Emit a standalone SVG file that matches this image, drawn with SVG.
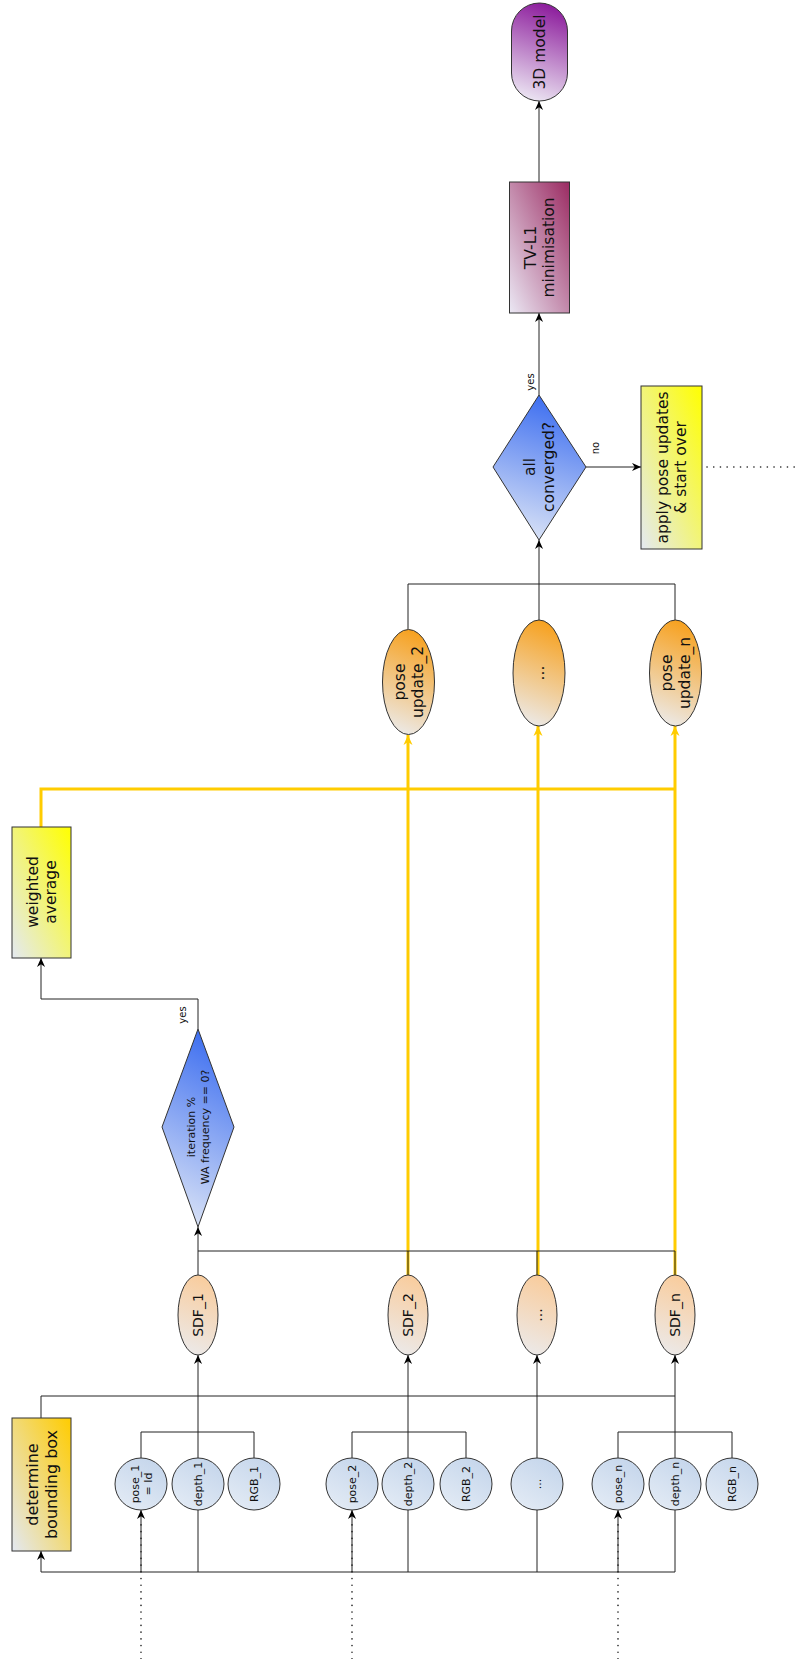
<svg xmlns="http://www.w3.org/2000/svg" width="795" height="1659" viewBox="0 0 795 1659">
<style>
text{font-family:"DejaVu Sans","Liberation Sans",sans-serif;fill:#111;text-anchor:middle}
.c{stroke:#222;stroke-width:1;fill:none}
.y{stroke:#ffcc00;stroke-width:3;fill:none}
.s{stroke:#333;stroke-width:1}
.dot{stroke:#222;stroke-width:1.6;fill:none;stroke-dasharray:0.1 6.6;stroke-linecap:round}
</style>
<defs>
<marker id="ab" viewBox="0 0 10 10" refX="10" refY="5" markerWidth="9" markerHeight="9" markerUnits="userSpaceOnUse" orient="auto"><path d="M0,0.5 L10,5 L0,9.5 L3,5 z" fill="#000"/></marker>
<marker id="ay" viewBox="0 0 10 10" refX="10" refY="5" markerWidth="10" markerHeight="10" markerUnits="userSpaceOnUse" orient="auto"><path d="M0,0.5 L10,5 L0,9.5 L3,5 z" fill="#ffcc00"/></marker>
<linearGradient id="gCirc" x1="0.8" y1="0" x2="0.2" y2="1"><stop offset="0" stop-color="#c4d5eb"/><stop offset="1" stop-color="#e3ebf5"/></linearGradient>
<linearGradient id="gSdf" x1="0.6" y1="0" x2="0.4" y2="1"><stop offset="0" stop-color="#f9cc9c"/><stop offset="1" stop-color="#ece9e8"/></linearGradient>
<linearGradient id="gPu" x1="0.6" y1="0" x2="0.4" y2="1"><stop offset="0" stop-color="#f7a01c"/><stop offset="1" stop-color="#ece9e6"/></linearGradient>
<linearGradient id="gDia" x1="0.6" y1="0" x2="0.4" y2="1"><stop offset="0" stop-color="#3a6cf0"/><stop offset="1" stop-color="#dae3f6"/></linearGradient>
<linearGradient id="gBB" x1="1" y1="0" x2="0" y2="1"><stop offset="0" stop-color="#ffcc00"/><stop offset="1" stop-color="#e3e8f2"/></linearGradient>
<linearGradient id="gYel" x1="1" y1="0" x2="0" y2="1"><stop offset="0" stop-color="#ffff00"/><stop offset="1" stop-color="#e4e9f2"/></linearGradient>
<linearGradient id="gTV" x1="1" y1="0" x2="0" y2="1"><stop offset="0" stop-color="#9b2b62"/><stop offset="1" stop-color="#ebe8f4"/></linearGradient>
<linearGradient id="g3D" x1="0.6" y1="0" x2="0.4" y2="1"><stop offset="0" stop-color="#8c1c9c"/><stop offset="1" stop-color="#ebe4f2"/></linearGradient>
</defs>
<rect width="795" height="1659" fill="#fff"/>

<g id="connectors">
<!-- yellow -->
<path class="y" d="M41,827 V789 H675"/>
<path class="y" d="M408,1275 V735" marker-end="url(#ay)"/>
<path class="y" d="M538,1275 V726" marker-end="url(#ay)"/>
<path class="y" d="M675,1275 V726" marker-end="url(#ay)"/>
<!-- input bus -->
<path class="c" d="M618,1572 H41 V1551" stroke-width="2" marker-end="url(#ab)"/>
<path class="c" d="M675,1510 V1572 H618" stroke="#555"/>
<path class="c" d="M198,1510 V1572"/>
<path class="c" d="M408,1510 V1572"/>
<path class="c" d="M537,1510 V1572"/>
<!-- dotted pose inputs -->
<path class="dot" d="M141,1659 V1520"/>
<path class="dot" d="M352,1659 V1520"/>
<path class="dot" d="M618,1659 V1520"/>
<path class="c" d="M141,1572 V1510" stroke="#555" marker-end="url(#ab)"/>
<path class="c" d="M352,1572 V1510" stroke="#555" marker-end="url(#ab)"/>
<path class="c" d="M618,1572 V1510" stroke="#555" marker-end="url(#ab)"/>
<!-- pose/RGB groupings -->
<path class="c" d="M141,1458 V1432 H254 V1458"/>
<path class="c" d="M352,1458 V1432 H466 V1458"/>
<path class="c" d="M618,1458 V1432 H732 V1458"/>
<!-- to SDFs -->
<path class="c" d="M198,1458 V1355" marker-end="url(#ab)"/>
<path class="c" d="M408,1458 V1355" marker-end="url(#ab)"/>
<path class="c" d="M537,1458 V1355" marker-end="url(#ab)"/>
<path class="c" d="M675,1458 V1355" marker-end="url(#ab)"/>
<path class="c" d="M41,1418 V1396 H675" stroke="#555"/>
<!-- SDFs to diamond -->
<path class="c" d="M198,1275 V1227" marker-end="url(#ab)"/>
<path class="c" d="M198,1251 H675" stroke="#555"/>
<path class="c" d="M408,1275 V1251"/>
<path class="c" d="M537,1275 V1251"/>
<path class="c" d="M675,1275 V1251"/>
<!-- diamond to weighted average -->
<path class="c" d="M198,1029 V999 H41 V958" marker-end="url(#ab)"/>
<!-- pose updates to all converged -->
<path class="c" d="M408,629 V584 H675 V620"/>
<path class="c" d="M539,620 V540" marker-end="url(#ab)"/>
<path class="c" d="M539,395 V313" marker-end="url(#ab)"/>
<path class="c" d="M539,182 V101" marker-end="url(#ab)"/>
<path class="c" d="M586,467 H641" marker-end="url(#ab)"/>
<path class="dot" d="M707,467 H795"/>
<text font-size="10" transform="translate(182,1015) rotate(-90)" dy="0.35em">yes</text>
<text font-size="10" transform="translate(530,382) rotate(-90)" dy="0.35em">yes</text>
<text font-size="10" transform="translate(595,448) rotate(-90)" dy="0.35em">no</text>
</g>

<g id="determine-bounding-box">
<rect x="12" y="1418" width="59" height="133" fill="url(#gBB)" class="s"/>
<text font-size="16" transform="translate(41.5,1484.5) rotate(-90)"><tspan x="0" y="-4">determine</tspan><tspan x="0" y="15">bounding box</tspan></text>
</g>

<g id="inputs" font-size="11">
<g id="pose_1"><circle cx="141" cy="1484" r="26" fill="url(#gCirc)" class="s"/><text font-size="11" transform="translate(141,1484) rotate(-90)"><tspan x="0" y="-2">pose_1</tspan><tspan x="0" y="10.5">= Id</tspan></text></g>
<g id="depth_1"><circle cx="198" cy="1484" r="26" fill="url(#gCirc)" class="s"/><text font-size="11" transform="translate(198,1484) rotate(-90)" dy="0.35em">depth_1</text></g>
<g id="RGB_1"><circle cx="254" cy="1484" r="26" fill="url(#gCirc)" class="s"/><text font-size="11" transform="translate(254,1484) rotate(-90)" dy="0.35em">RGB_1</text></g>
<g id="pose_2"><circle cx="352" cy="1484" r="26" fill="url(#gCirc)" class="s"/><text font-size="11" transform="translate(352,1484) rotate(-90)" dy="0.35em">pose_2</text></g>
<g id="depth_2"><circle cx="408" cy="1484" r="26" fill="url(#gCirc)" class="s"/><text font-size="11" transform="translate(408,1484) rotate(-90)" dy="0.35em">depth_2</text></g>
<g id="RGB_2"><circle cx="466" cy="1484" r="26" fill="url(#gCirc)" class="s"/><text font-size="11" transform="translate(466,1484) rotate(-90)" dy="0.35em">RGB_2</text></g>
<g id="input-dots"><circle cx="537" cy="1484" r="26" fill="url(#gCirc)" class="s"/><text font-size="11" transform="translate(537,1484) rotate(-90)" dy="0.35em">...</text></g>
<g id="pose_n"><circle cx="618" cy="1484" r="26" fill="url(#gCirc)" class="s"/><text font-size="11" transform="translate(618,1484) rotate(-90)" dy="0.35em">pose_n</text></g>
<g id="depth_n"><circle cx="675" cy="1484" r="26" fill="url(#gCirc)" class="s"/><text font-size="11" transform="translate(675,1484) rotate(-90)" dy="0.35em">depth_n</text></g>
<g id="RGB_n"><circle cx="732" cy="1484" r="26" fill="url(#gCirc)" class="s"/><text font-size="11" transform="translate(732,1484) rotate(-90)" dy="0.35em">RGB_n</text></g>
</g>

<g id="sdfs">
<g id="SDF_1"><ellipse cx="198" cy="1315" rx="20" ry="40" fill="url(#gSdf)" class="s"/><text font-size="14" transform="translate(198,1315) rotate(-90)" dy="0.35em">SDF_1</text></g>
<g id="SDF_2"><ellipse cx="408" cy="1315" rx="20" ry="40" fill="url(#gSdf)" class="s"/><text font-size="14" transform="translate(408,1315) rotate(-90)" dy="0.35em">SDF_2</text></g>
<g id="SDF-dots"><ellipse cx="537" cy="1315" rx="20" ry="40" fill="url(#gSdf)" class="s"/><text font-size="14" transform="translate(537,1315) rotate(-90)" dy="0.35em">...</text></g>
<g id="SDF_n"><ellipse cx="675" cy="1315" rx="20" ry="40" fill="url(#gSdf)" class="s"/><text font-size="14" transform="translate(675,1315) rotate(-90)" dy="0.35em">SDF_n</text></g>
</g>

<g id="wa-decision">
<polygon points="198,1029 234,1127 198,1227 162,1127" fill="url(#gDia)" class="s"/>
<text font-size="11" transform="translate(198,1127) rotate(-90)"><tspan x="0" y="-3">iteration %</tspan><tspan x="0" y="11">WA frequency == 0?</tspan></text>
</g>

<g id="weighted-average">
<rect x="12" y="827" width="59" height="131" fill="url(#gYel)" class="s"/>
<text font-size="15.5" transform="translate(41.5,892) rotate(-90)"><tspan x="0" y="-4">weighted</tspan><tspan x="0" y="14.5">average</tspan></text>
</g>

<g id="pose-updates">
<g id="pose-update_2"><ellipse cx="408.5" cy="682" rx="26" ry="52.5" fill="url(#gPu)" class="s"/><text font-size="15.5" transform="translate(408.5,682) rotate(-90)"><tspan x="0" y="-4">pose</tspan><tspan x="0" y="14.5">update_2</tspan></text></g>
<g id="pose-update-dots"><ellipse cx="539" cy="673" rx="26" ry="53" fill="url(#gPu)" class="s"/><text font-size="15.5" transform="translate(539,673) rotate(-90)" dy="0.35em">...</text></g>
<g id="pose-update_n"><ellipse cx="675.5" cy="673" rx="26" ry="53" fill="url(#gPu)" class="s"/><text font-size="15.5" transform="translate(675.5,673) rotate(-90)"><tspan x="0" y="-4">pose</tspan><tspan x="0" y="14.5">update_n</tspan></text></g>
</g>

<g id="all-converged">
<polygon points="539,395 586,467 539,540 493,467" fill="url(#gDia)" class="s"/>
<text font-size="15.5" transform="translate(539,467) rotate(-90)"><tspan x="0" y="-4">all</tspan><tspan x="0" y="14.5">converged?</tspan></text>
</g>

<g id="apply-pose-updates">
<rect x="641" y="386" width="61" height="163" fill="url(#gYel)" class="s"/>
<text font-size="15.5" transform="translate(671.5,467.5) rotate(-90)"><tspan x="0" y="-4">apply pose updates</tspan><tspan x="0" y="14.5">&amp; start over</tspan></text>
</g>

<g id="tv-l1">
<rect x="509.5" y="182" width="60" height="131" fill="url(#gTV)" class="s"/>
<text font-size="15.5" transform="translate(539.5,247.5) rotate(-90)"><tspan x="0" y="-4">TV-L1</tspan><tspan x="0" y="14.5">minimisation</tspan></text>
</g>

<g id="model-3d">
<rect x="511.5" y="3" width="56" height="98" rx="28" ry="28" fill="url(#g3D)" class="s"/>
<text font-size="15.5" transform="translate(539.5,52) rotate(-90)" dy="0.35em">3D model</text>
</g>
</svg>
